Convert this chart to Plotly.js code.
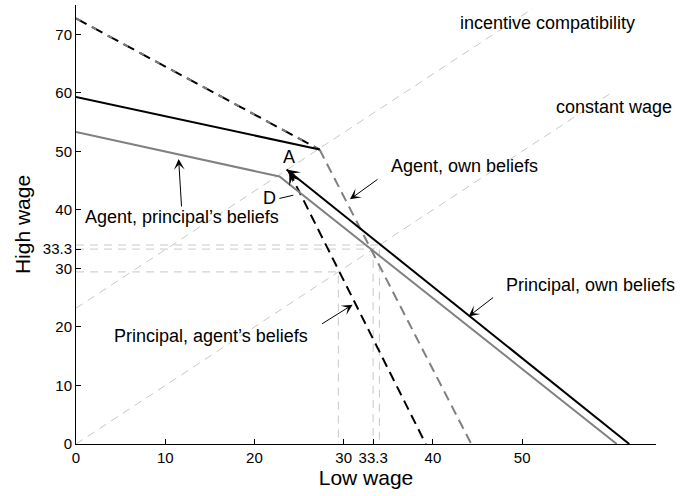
<!DOCTYPE html>
<html>
<head>
<meta charset="utf-8">
<script src="https://cdn.plot.ly/plotly-3.0.1.min.js"></script>
<style>html,body{margin:0;padding:0;background:#fff;}#chart{width:680px;height:496px;}</style>
</head>
<body>
<div id="chart"></div>
<script>
// ---- data ----
const xTickVals = [0, 10, 20, 30, 33.3, 40, 50];
const xTickText = ['0', '10', '20', '30', '33.3', '40', '50'];
const yTickVals = [0, 10, 20, 30, 33.3, 40, 50, 60, 70];
const yTickText = ['0', '10', '20', '30', '33.3', '40', '50', '60', '70'];

const constWageX = [0, 59.8];
const constWageY = [0, 59.8];
const incCompX = [0, 51.2];
const incCompY = [23.2, 74.4];

// intersections with constant wage line (reference drop lines)
const dropPoints = [29.4, 33.3, 34.0];

// Agent, own beliefs (grey dashed): shared upper part and lower part
const agentOwnTopX = [0, 27.3];
const agentOwnTopY = [72.7, 50.3];
const agentOwnX = [27.3, 44.3];
const agentOwnY = [50.3, 0];
// Principal, agent's beliefs (black dashed)
const princAgentTopX = [0, 27.3];
const princAgentTopY = [72.7, 50.3];
const princAgentX = [23.9, 39.2];
const princAgentY = [46.5, 0];
// Principal, own beliefs (black solid)
const princOwnTopX = [0, 27.3];
const princOwnTopY = [59.3, 50.3];
const princOwnX = [23.6, 62.0];
const princOwnY = [46.9, 0];
// Agent, principal's beliefs (grey solid)
const agentPrincX = [0, 22.8, 60.6];
const agentPrincY = [53.3, 45.7, 0];
// D pointer segment
const dLineX = [22.8, 24.35];
const dLineY = [41.95, 42.5];

const FONT = 'Liberation Sans, Arial, Helvetica, sans-serif';
const LIGHT = '#c8c8c8';
const GREY = '#808080';

const traces = [];
function add(x, y, color, width, dash) {
  traces.push({x: x, y: y, type: 'scatter', mode: 'lines', hoverinfo: 'skip',
    line: {color: color, width: width, dash: dash || 'solid'}, showlegend: false, cliponaxis: false});
}
add(constWageX, constWageY, LIGHT, 1, '8px,6px');
add(incCompX, incCompY, LIGHT, 1, '8px,6px');
dropPoints.forEach(p => add([0, p, p], [p, p, 0], LIGHT, 1, '8px,6px'));

add(princAgentTopX, princAgentTopY, '#000', 2, '12px,6px');
add(agentOwnTopX, agentOwnTopY, GREY, 2, '5px,13px');
add(agentOwnX, agentOwnY, GREY, 2, '10px,6px');
add(princAgentX, princAgentY, '#000', 2, '10px,6px');
add(agentPrincX, agentPrincY, GREY, 2);
add(princOwnTopX, princOwnTopY, '#000', 2);
add(princOwnX, princOwnY, '#000', 2);
add(dLineX, dLineY, '#000', 1);

function txt(x, y, t) {
  return {x: x, y: y, xref: 'x', yref: 'y', text: t, showarrow: false,
    font: {family: FONT, size: 18, color: '#000'}, xanchor: 'center', yanchor: 'middle'};
}
function arr(x, y, ax, ay, w, s) {
  return {x: x, y: y, xref: 'x', yref: 'y', ax: ax, ay: ay, text: '', showarrow: true,
    arrowhead: 3, arrowsize: s, arrowwidth: w, arrowcolor: '#000', standoff: 0, startstandoff: 0};
}
const annotations = [
  txt(52.83, 72.0, 'incentive compatibility'),
  txt(60.28, 57.66, 'constant wage'),
  txt(43.54, 47.5, 'Agent, own beliefs'),
  txt(11.88, 38.74, 'Agent, principal\u2019s beliefs'),
  txt(15.13, 18.44, 'Principal, agent\u2019s beliefs'),
  txt(57.7, 27.16, 'Principal, own beliefs'),
  txt(23.82, 49.1, 'A'),
  txt(21.68, 42.0, 'D'),
  txt(60.02, -1.73, 'C'),
  txt(63.19, -1.73, 'B'),
  arr(30.7, 41.8, 29, -21, 1, 1.8),
  arr(11.5, 48.7, 3, 49, 1, 1.8),
  arr(31.0, 23.8, -32, 20, 1, 1.8),
  arr(44.0, 21.8, 26, -20, 1, 1.8),
  arr(princOwnX[0], princOwnY[0], 9, 7, 2, 1.1),
  arr(princAgentX[0], princAgentY[0], 5, 10, 2, 1.1)
];

const axisCommon = {
  showgrid: false, zeroline: false, showline: true, linecolor: '#000', linewidth: 1,
  ticks: 'inside', ticklen: 5, tickwidth: 1, tickcolor: '#000',
  tickfont: {family: FONT, size: 15, color: '#000'}, tickmode: 'array'
};

const layout = {
  width: 680, height: 496,
  margin: {l: 76, r: 24, t: 5, b: 52},
  paper_bgcolor: '#fff', plot_bgcolor: '#fff',
  showlegend: false,
  xaxis: Object.assign({}, axisCommon, {
    range: [0, 65], tickvals: xTickVals, ticktext: xTickText,
    title: {text: 'Low wage', font: {family: FONT, size: 21, color: '#000'}, standoff: 5}
  }),
  yaxis: Object.assign({}, axisCommon, {
    range: [0, 75], tickvals: yTickVals, ticktext: yTickText,
    title: {text: 'High wage', font: {family: FONT, size: 21, color: '#000'}, standoff: 6}
  }),
  annotations: annotations
};

Plotly.newPlot('chart', traces, layout, {displayModeBar: false, staticPlot: true});
</script>
</body>
</html>
